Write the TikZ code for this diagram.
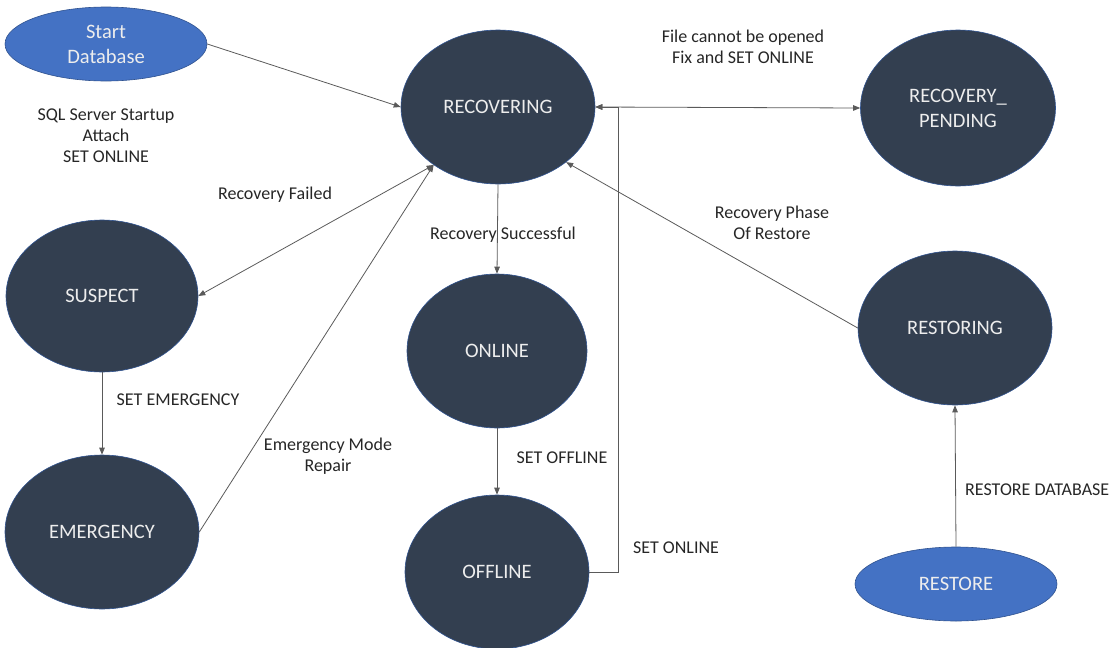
\documentclass[tikz,border=0pt]{standalone}
\usepackage{fontspec}
\setmainfont{Carlito}
\usetikzlibrary{shapes.geometric,arrows.meta}
\definecolor{darkfill}{HTML}{333F50}
\definecolor{bluefill}{HTML}{4472C4}
\definecolor{blueedge}{HTML}{2F528F}
\definecolor{nodetext}{HTML}{EDEDED}
\definecolor{labeltext}{HTML}{262626}
\definecolor{linecol}{HTML}{5A5A5A}
\tikzset{
  state/.style={ellipse, draw=blueedge, line width=0.6pt, fill=darkfill, text=nodetext,
    inner sep=0pt, align=center, font=\fontsize{20.5}{25}\selectfont},
  entry/.style={ellipse, draw=blueedge, line width=0.6pt, fill=bluefill, text=nodetext,
    inner sep=0pt, align=center, font=\fontsize{20.5}{25}\selectfont,
    minimum width=202pt, minimum height=74pt},
  lbl/.style={text=labeltext, align=center, inner sep=0pt, font=\fontsize{18}{21}\selectfont},
  conn/.style={draw=linecol, line width=0.8pt, -{Triangle[length=7pt,width=5.5pt]}},
  conn2/.style={draw=linecol, line width=0.8pt, {Triangle[length=7pt,width=5.5pt]}-{Triangle[length=7pt,width=5.5pt]}}
}
\begin{document}
\begin{tikzpicture}[x=1pt,y=-1pt]
\useasboundingbox (0,0) rectangle (1117,648);
% nodes
\node[entry] (start) at (106,44) {Start\\Database};
\node[state, minimum width=194pt, minimum height=154pt] (rec) at (498,107) {RECOVERING};
\node[state, minimum width=195pt, minimum height=156pt] (pend) at (958,108) {RECOVERY\_\\PENDING};
\node[state, minimum width=192pt, minimum height=152pt] (sus) at (102,296) {SUSPECT};
\node[state, minimum width=194pt, minimum height=154pt] (emg) at (102,532) {EMERGENCY};
\node[state, minimum width=180pt, minimum height=154pt] (onl) at (497,351) {ONLINE};
\node[state, minimum width=184pt, minimum height=154pt] (off) at (497,572) {OFFLINE};
\node[state, minimum width=194pt, minimum height=154pt] (rsg) at (955,328) {RESTORING};
\node[entry] (rst) at (956,584) {RESTORE};
\coordinate (j) at (618,107);
% labels
\node[lbl] (l1) at (106,136) {SQL Server Startup\\Attach\\SET ONLINE};
\node[lbl] (l2) at (743,47) {File cannot be opened\\Fix and SET ONLINE};
\node[lbl] (l3) at (275,195) {Recovery Failed};
\node[lbl] (l4) at (503,235) {Recovery Successful};
\node[lbl] (l5) at (772,223) {Recovery Phase\\Of Restore};
\node[lbl] (l6) at (178,400) {SET EMERGENCY};
\node[lbl] (l7) at (328,456) {Emergency Mode\\Repair};
\node[lbl] (l8) at (562,458) {SET OFFLINE};
\node[lbl] (l9) at (676,548) {SET ONLINE};
\node[lbl, anchor=west] (l10) at (965,490) {RESTORE DATABASE};
% connectors
\draw[conn] (start.east) -- (rec.west);
\draw[conn2] (sus.east) -- (rec.222);
\draw[conn] (emg.east) -- (rec.222);
\draw[conn] (rec.south) -- (onl.north);
\draw[conn] (onl.south) -- (off.north);
\draw[conn] (sus.south) -- (emg.north);
\draw[conn] (off.east) -| (j) -- (rec.east);
\draw[conn2] (rec.east) -- (pend.west);
\draw[conn] (rsg.west) -- (rec.-39);
\draw[conn] (rst.north) -- (rsg.south);
\end{tikzpicture}
\end{document}
